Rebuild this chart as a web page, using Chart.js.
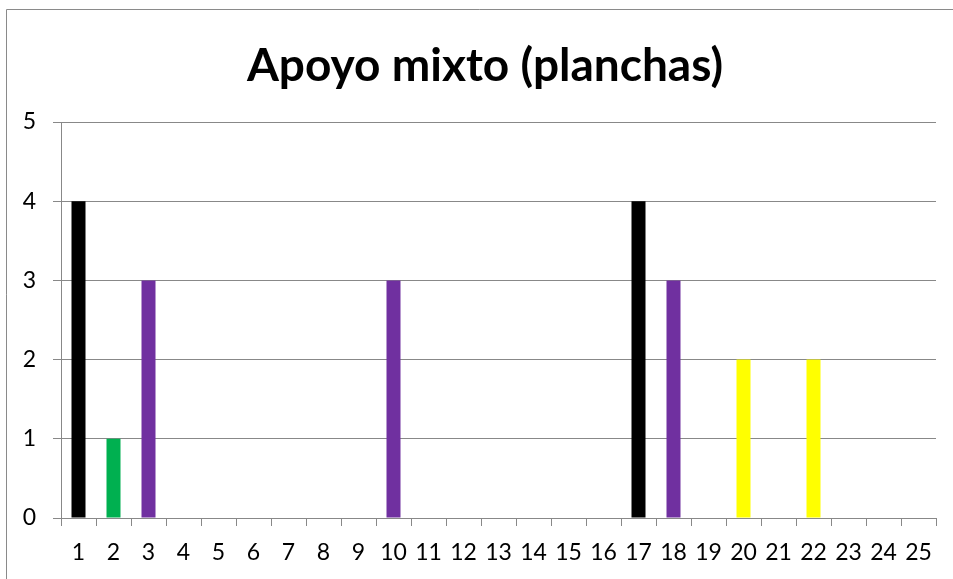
<!DOCTYPE html>
<html>
<head>
<meta charset="utf-8">
<script src="https://cdn.jsdelivr.net/npm/chart.js@4/dist/chart.umd.min.js"></script>
<style>
  html, body { margin: 0; padding: 0; background: #ffffff; }
  #wrap { width: 953px; height: 579px; }
</style>
</head>
<body>
<div id="wrap"><canvas id="chart" width="953" height="579"></canvas></div>
<script>
// Categories 1..25 and the count of "planchas" for each one
const categories = ['1','2','3','4','5','6','7','8','9','10','11','12','13','14','15','16','17','18','19','20','21','22','23','24','25'];
const values     = [4, 1, 3, 0, 0, 0, 0, 0, 0, 3, 0, 0, 0, 0, 0, 0, 4, 3, 0, 2, 0, 2, 0, 0, 0];
const barColors  = ['#000000','#00B050','#7030A0','#7030A0','#7030A0','#7030A0','#7030A0','#7030A0','#7030A0','#7030A0',
                    '#7030A0','#7030A0','#7030A0','#7030A0','#7030A0','#7030A0','#000000','#7030A0','#FFFF00','#FFFF00',
                    '#FFFF00','#FFFF00','#FFFF00','#FFFF00','#FFFF00'];
const yTicks     = [0, 1, 2, 3, 4, 5];

const AXIS_GREY = '#888888';
const FONT = 'Lato, Carlito, Calibri, "Liberation Sans", sans-serif';

// White page with the thin grey frame on the left and top
const framePlugin = {
  id: 'frame',
  beforeDraw(chart) {
    const ctx = chart.ctx;
    ctx.save();
    ctx.fillStyle = '#ffffff';
    ctx.fillRect(0, 0, chart.width, chart.height);
    ctx.strokeStyle = '#8a8a8a';
    ctx.lineWidth = 1;
    ctx.beginPath();
    ctx.moveTo(6.5, chart.height);
    ctx.lineTo(6.5, 9.5);
    ctx.lineTo(chart.width, 9.5);
    ctx.stroke();
    ctx.restore();
  }
};

new Chart(document.getElementById('chart'), {
  type: 'bar',
  data: {
    labels: categories,
    datasets: [{
      data: values,
      backgroundColor: barColors,
      borderWidth: 0,
      categoryPercentage: 1.0,
      barPercentage: 0.4
    }]
  },
  options: {
    responsive: false,
    animation: false,
    layout: { padding: { left: 17, right: 0, top: 0, bottom: 0 } },
    plugins: {
      legend: { display: false },
      tooltip: { enabled: false },
      title: {
        display: true,
        text: 'Apoyo mixto (planchas)',
        color: '#000000',
        font: { family: FONT, size: 46, weight: 'bold', lineHeight: 1.2 },
        padding: { top: 39, bottom: 27.8 }
      }
    },
    scales: {
      x: {
        grid: { offset: true, drawOnChartArea: false, drawTicks: true, tickLength: 8, color: AXIS_GREY },
        border: { color: AXIS_GREY },
        ticks: { color: '#000000', font: { family: FONT, size: 23 }, padding: 13, maxRotation: 0, autoSkip: false },
        afterFit(scale) { scale.height = 61; }
      },
      y: {
        min: 0,
        max: 5,
        afterBuildTicks(scale) { scale.ticks = yTicks.map(v => ({ value: v })); },
        grid: { color: AXIS_GREY, tickLength: 8 },
        border: { color: AXIS_GREY },
        ticks: { color: '#000000', font: { family: FONT, size: 23 }, padding: 17 },
        afterFit(scale) { scale.width = 44; }
      },
      // empty margin on the right of the plot
      yRight: {
        position: 'right',
        display: true,
        grid: { display: false, drawTicks: false },
        border: { display: false },
        ticks: { display: false },
        afterFit(scale) { scale.width = 17; }
      }
    }
  },
  plugins: [framePlugin]
});
</script>
</body>
</html>
